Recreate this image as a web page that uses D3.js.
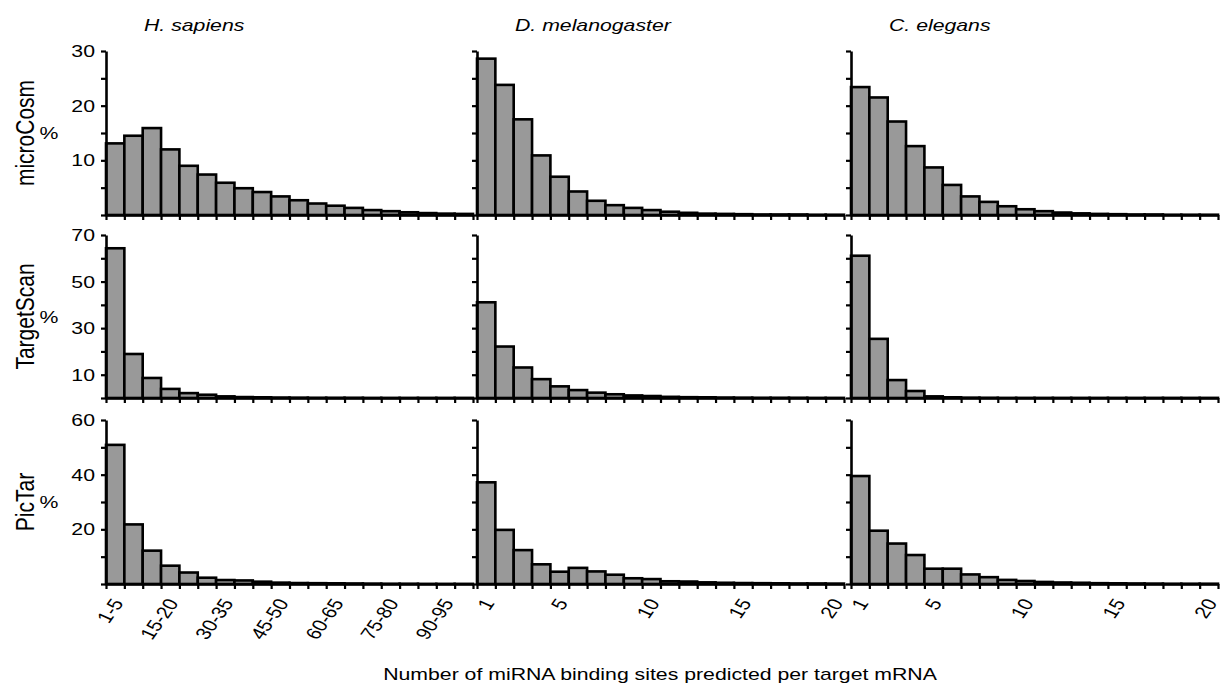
<!DOCTYPE html>
<html lang="en">
<head>
  <meta charset="utf-8">
  <title>miRNA binding sites per target</title>
  <script src="https://d3js.org/d3.v7.min.js"></script>
  <style>
    body { margin: 0; background: #fff; }
    text { font-family: "Liberation Sans", Arial, sans-serif; fill: #000; }
  </style>
</head>
<body>
  <div id="chart"></div>
  <script>
    // species (columns) and prediction methods (rows)
    var species = ["H. sapiens", "D. melanogaster", "C. elegans"];
    var methods = ["microCosm", "TargetScan", "PicTar"];

    // x categories
    var humanBins = ["1-5", "5-10", "10-15", "15-20", "20-25", "25-30", "30-35", "35-40", "40-45", "45-50",
                     "50-55", "55-60", "60-65", "65-70", "70-75", "75-80", "80-85", "85-90", "90-95", "95-100"];
    var siteBins = ["1", "2", "3", "4", "5", "6", "7", "8", "9", "10",
                    "11", "12", "13", "14", "15", "16", "17", "18", "19", "20"];
    var humanTickLabels = ["1-5", "15-20", "30-35", "45-50", "60-65", "75-80", "90-95"];
    var siteTickLabels = ["1", "5", "10", "15", "20"];

    // y axes per row
    var yMax = [30, 70, 60];
    var yStep = [5, 10, 10];
    var yTickLabels = [[10, 20, 30], [10, 30, 50, 70], [20, 40, 60]];

    // % of targets per bin
    var microcosmHsa = [13.1, 14.5, 15.9, 12.0, 9.0, 7.4, 5.9, 4.9, 4.2, 3.4, 2.7, 2.1, 1.7, 1.3, 0.9, 0.7, 0.5, 0.35, 0.25, 0.2];
    var microcosmDme = [28.6, 23.8, 17.5, 10.9, 7.0, 4.3, 2.6, 1.8, 1.3, 0.9, 0.6, 0.4, 0.25, 0.2, 0.15, 0.1, 0.1, 0.1, 0.05, 0.05];
    var microcosmCel = [23.4, 21.5, 17.1, 12.6, 8.7, 5.5, 3.4, 2.4, 1.6, 1.05, 0.7, 0.45, 0.3, 0.2, 0.15, 0.1, 0.1, 0.05, 0.05, 0.05];
    var targetscanHsa = [64.3, 18.9, 8.6, 3.9, 2.1, 1.4, 0.7, 0.4, 0.3, 0.2, 0.15, 0.1, 0.1, 0.1, 0.05, 0.05, 0.05, 0.05, 0.05, 0.05];
    var targetscanDme = [41.1, 22.1, 13.1, 8.1, 5.0, 3.4, 2.3, 1.6, 1.1, 0.85, 0.5, 0.35, 0.3, 0.2, 0.15, 0.1, 0.1, 0.1, 0.05, 0.05];
    var targetscanCel = [61.1, 25.4, 7.7, 3.0, 0.7, 0.3, 0.15, 0.1, 0.05, 0.05, 0.05, 0.05, 0.05, 0.05, 0.05, 0.05, 0.05, 0.05, 0.05, 0.05];
    var pictarHsa = [50.9, 21.8, 12.2, 6.7, 4.2, 2.3, 1.45, 1.3, 0.85, 0.5, 0.35, 0.3, 0.25, 0.2, 0.15, 0.1, 0.1, 0.05, 0.05, 0.05];
    var pictarDme = [37.2, 19.8, 12.4, 7.2, 4.5, 5.9, 4.6, 3.4, 2.1, 1.8, 1.0, 0.9, 0.6, 0.45, 0.35, 0.3, 0.25, 0.2, 0.2, 0.15];
    var pictarCel = [39.5, 19.5, 14.8, 10.6, 5.6, 5.6, 3.5, 2.5, 1.5, 1.1, 0.75, 0.55, 0.45, 0.3, 0.25, 0.2, 0.15, 0.1, 0.1, 0.1];

    var grid = [
      [microcosmHsa, microcosmDme, microcosmCel],
      [targetscanHsa, targetscanDme, targetscanCel],
      [pictarHsa, pictarDme, pictarCel]
    ];

    var width = 1221, height = 686;
    var sx = 1.25; // the original figure is stretched sideways, text too
    var colLeft = [106, 477, 851], colWidth = 367;
    var rowTop = [51, 235, 420], rowBottom = [215, 398, 584];

    var svg = d3.select("#chart").append("svg")
      .attr("width", width)
      .attr("height", height);

    function stretchedText(parent, txt, X, Y, size, anchor, rot) {
      return parent.append("text")
        .attr("transform", "translate(" + X + "," + Y + ") scale(" + sx + ",1)" + (rot ? " rotate(" + rot + ")" : ""))
        .attr("text-anchor", anchor)
        .attr("font-size", size)
        .text(txt);
    }

    function drawPanel(row, col) {
      var values = grid[row][col];
      var bins = col == 0 ? humanBins : siteBins;
      var shown = col == 0 ? humanTickLabels : siteTickLabels;

      var x = d3.scaleLinear().domain([0, bins.length]).range([colLeft[col], colLeft[col] + colWidth]);
      var y = d3.scaleLinear().domain([0, yMax[row]]).range([rowBottom[row], rowTop[row]]);
      var g = svg.append("g");

      g.selectAll("rect")
        .data(values)
        .join("rect")
        .attr("x", function (d, i) { return x(i); })
        .attr("y", function (d) { return y(d); })
        .attr("width", x(1) - x(0))
        .attr("height", function (d) { return y(0) - y(d); })
        .attr("fill", "#999999")
        .attr("stroke", "#000")
        .attr("stroke-width", 2.6);

      var ya = g.append("g")
        .attr("transform", "translate(" + x(0) + ",0)")
        .call(d3.axisLeft(y)
          .tickValues(d3.range(0, yMax[row] + 1, yStep[row]))
          .tickSize(5).tickSizeOuter(0).tickFormat(""));
      ya.selectAll("path").attr("stroke-width", 2.6);
      ya.selectAll("line").attr("stroke-width", 2.2);

      var xa = g.append("g")
        .attr("transform", "translate(0," + y(0) + ")")
        .call(d3.axisBottom(x)
          .tickValues(d3.range(0, bins.length + 1))
          .tickSize(5).tickSizeOuter(0).tickFormat(""));
      xa.selectAll("path").attr("stroke-width", 2.6);
      xa.selectAll("line").attr("stroke-width", 2.2);

      if (col == 0) {
        yTickLabels[row].forEach(function (v) {
          stretchedText(g, v, x(0) - 11, y(v), 17, "end").attr("dy", "0.36em");
        });
      }
      if (row == 2) {
        shown.forEach(function (lab) {
          var i = bins.indexOf(lab);
          stretchedText(g, lab, x(i + 0.5) + 9, y(0) + 19, 17, "end", -60);
        });
      }
    }

    for (var r = 0; r < 3; r++) {
      for (var c = 0; c < 3; c++) {
        drawPanel(r, c);
      }
    }

    // column titles
    species.forEach(function (s, c) {
      stretchedText(svg, s, colLeft[c] + 38, 31, 17, "start").attr("font-style", "italic");
    });

    // row titles: method name, then % beside it
    methods.forEach(function (m, r) {
      var yc = (rowTop[r] + rowBottom[r]) / 2;
      stretchedText(svg, m, 34, yc, 21, "middle", -90);
      stretchedText(svg, "%", 49, yc, 17, "middle").attr("dy", "0.36em");
    });

    stretchedText(svg, "Number of miRNA binding sites predicted per target mRNA", 660, 680, 17, "middle");
  </script>
</body>
</html>
